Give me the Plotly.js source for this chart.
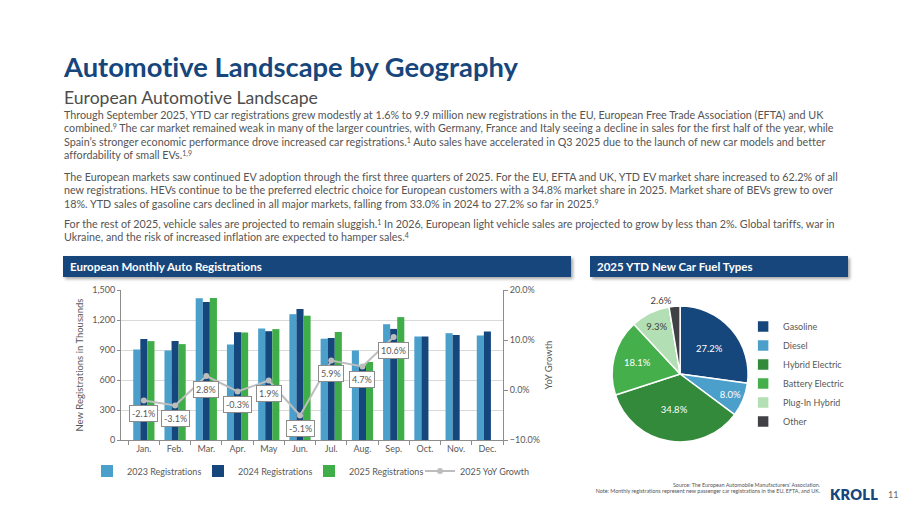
<!DOCTYPE html>
<html>
<head>
<meta charset="utf-8">
<script src="https://cdn.plot.ly/plotly-3.0.1.min.js"></script>
<style>
  html, body { margin: 0; padding: 0; background: #fff; }
  #page { position: relative; width: 920px; height: 518px; overflow: hidden; background: #fff; font-family: Lato, "Open Sans", sans-serif; font-variant-ligatures: none; font-feature-settings: "liga" 0, "clig" 0; }
  .abs { position: absolute; white-space: nowrap; }
  #title { left: 64px; top: 50px; font-size: 27px; font-weight: 700; color: #17467C; line-height: 34px; }
  #subtitle { left: 64px; top: 88px; font-size: 17px; color: #4d4d4d; line-height: 20px; }
  .para { left: 64px; font-size: 10.2px; color: #555; line-height: 13.3px; }
  .para sup { font-size: 65%; line-height: 0; vertical-align: 0.45em; }
  .hdr { background: #17467C; color: #fff; font-weight: 700; font-size: 11.5px; line-height: 21px; box-shadow: 2px 2px 3px rgba(0,0,0,0.35); padding-left: 7px; box-sizing: border-box; }
  .foot { right: 100px; font-size: 5.4px; color: #555; line-height: 6.6px; text-align: right; }
  #logo { left: 830px; top: 486px; font-size: 14.5px; font-weight: 800; color: #17467C; letter-spacing: 0.3px; line-height: 18px; }
  #pnum { left: 888px; top: 489px; font-size: 9px; color: #666; line-height: 12px; }
  #bar { position: absolute; left: 0px; top: 282px; width: 620px; height: 230px; }
  #pie { position: absolute; left: 590px; top: 280px; width: 330px; height: 200px; }
  svg text { font-variant-ligatures: none; }
</style>
</head>
<body>
<div id="page">
  <div id="title" class="abs">Automotive Landscape by Geography</div>
  <div id="subtitle" class="abs">European Automotive Landscape</div>

  <div id="p1" class="abs para" style="top:108px">Through September 2025, YTD car registrations grew modestly at 1.6% to 9.9 million new registrations in the EU, European Free Trade Association (EFTA) and UK<br>combined.<sup>9</sup> The car market remained weak in many of the larger countries, with Germany, France and Italy seeing a decline in sales for the first half of the year, while<br>Spain’s stronger economic performance drove increased car registrations.<sup>1</sup> Auto sales have accelerated in Q3 2025 due to the launch of new car models and better<br>affordability of small EVs.<sup>1,9</sup></div>

  <div id="p2" class="abs para" style="top:170px"><span id="fitline">The European markets saw continued EV adoption through the first three quarters of 2025. For the EU, EFTA and UK, YTD EV market share increased to 62.2% of all</span><br>new registrations. HEVs continue to be the preferred electric choice for European customers with a 34.8% market share in 2025. Market share of BEVs grew to over<br>18%. YTD sales of gasoline cars declined in all major markets, falling from 33.0% in 2024 to 27.2% so far in 2025.<sup>9</sup></div>

  <div id="p3" class="abs para" style="top:216.7px">For the rest of 2025, vehicle sales are projected to remain sluggish.<sup>1</sup> In 2026, European light vehicle sales are projected to grow by less than 2%. Global tariffs, war in<br>Ukraine, and the risk of increased inflation are expected to hamper sales.<sup>4</sup></div>

  <div class="abs hdr" style="left:63px; top:256px; width:508px; height:21px;">European Monthly Auto Registrations</div>
  <div class="abs hdr" style="left:590px; top:256px; width:258px; height:21px;">2025 YTD New Car Fuel Types</div>

  <div id="bar"></div>
  <div id="pie"></div>

  <div class="abs foot" style="top:481.5px">Source: The European Automobile Manufacturers’ Association.<br>Note: Monthly registrations represent new passenger car registrations in the EU, EFTA, and UK.</div>
  <div id="logo" class="abs">KROLL</div>
  <div id="pnum" class="abs">11</div>
</div>

<script>
// ---------- Data ----------
const months = ["Jan.", "Feb.", "Mar.", "Apr.", "May", "Jun.", "Jul.", "Aug.", "Sep.", "Oct.", "Nov.", "Dec."];
const reg2023 = [905, 895, 1418, 955, 1115, 1258, 1013, 895, 1158, 1035, 1068, 1045];
const reg2024 = [1010, 990, 1380, 1078, 1088, 1310, 1020, 745, 1111, 1035, 1050, 1085];
const reg2025 = [989, 959, 1419, 1075, 1109, 1243, 1080, 780, 1229, null, null, null];
const yoyMonths = ["Jan.", "Feb.", "Mar.", "Apr.", "May", "Jun.", "Jul.", "Aug.", "Sep."];
const yoy2025 = [-2.1, -3.1, 2.8, -0.3, 1.9, -5.1, 5.9, 4.7, 10.6];

const fuelLabels = ["Gasoline", "Diesel", "Hybrid Electric", "Battery Electric", "Plug-In Hybrid", "Other"];
const fuelShares = [27.2, 8.0, 34.8, 18.1, 9.3, 2.6];

// ---------- Fit paragraph font to reference line width ----------
(function fitText() {
  const line = document.getElementById('fitline');
  const target = 773;
  const w = line.getBoundingClientRect().width;
  const base = 10.2;
  const fs = base * target / w;
  document.querySelectorAll('.para').forEach(p => p.style.fontSize = fs + 'px');
  const fitEl = (id, tw) => {
    const el = document.getElementById(id);
    const cur = parseFloat(getComputedStyle(el).fontSize);
    const ww = el.getBoundingClientRect().width;
    el.style.fontSize = (cur * tw / ww) + 'px';
  };
  fitEl('title', 454);
  fitEl('subtitle', 254);
})();

// ---------- Bar chart ----------
const C23 = '#4A9FCB', C24 = '#16477C', C25 = '#3FAE49', CL = '#BDBDBD';
const axisFont = {family: 'Lato, sans-serif', size: 9, color: '#595959'};

const barTraces = [
  {type: 'bar', name: '2023 Registrations', x: months, y: reg2023, marker: {color: C23}},
  {type: 'bar', name: '2024 Registrations', x: months, y: reg2024, marker: {color: C24}},
  {type: 'bar', name: '2025 Registrations', x: months, y: reg2025, marker: {color: C25}},
  {type: 'scatter', mode: 'lines+markers', name: '2025 YoY Growth', x: yoyMonths, y: yoy2025, yaxis: 'y2',
   line: {color: CL, width: 2}, marker: {color: CL, size: 6}}
];

const labelAnns = yoyMonths.map((m, i) => ({
  x: m, y: yoy2025[i], xref: 'x', yref: 'y2', showarrow: false, yshift: -13,
  text: yoy2025[i].toFixed(1) + '%', font: {family: 'Lato, sans-serif', size: 9, color: '#595959'},
  bgcolor: '#ffffff', bordercolor: '#8c8c8c', borderwidth: 1, borderpad: 2
}));

const barLayout = {
  width: 620, height: 230,
  margin: {l: 121, r: 117, t: 8, b: 72},
  paper_bgcolor: 'rgba(0,0,0,0)', plot_bgcolor: 'rgba(0,0,0,0)',
  font: axisFont,
  barmode: 'group', bargap: 0.32, bargroupgap: 0,
  showlegend: true,
  legend: {orientation: 'h', x: -0.089, xanchor: 'left', y: -0.207, yanchor: 'middle',
           font: axisFont, entrywidth: 66, traceorder: 'normal'},
  xaxis: {type: 'category', tickson: 'boundaries', ticks: 'outside', ticklen: 4, tickcolor: '#8c8c8c',
          showline: true, linecolor: '#8c8c8c', linewidth: 1, showgrid: false, tickfont: axisFont,
          fixedrange: true},
  yaxis: {range: [0, 1500], dtick: 300, tickformat: ',d', ticks: 'outside', ticklen: 3, tickcolor: '#8c8c8c',
          showline: true, linecolor: '#8c8c8c', gridcolor: '#D9D9D9', zeroline: false, tickfont: axisFont,
          title: {text: 'New Registrations in Thousands', font: {family: 'Lato, sans-serif', size: 9.5, color: '#595959'}, standoff: 6}},
  yaxis2: {overlaying: 'y', side: 'right', range: [-10, 20], dtick: 10, tickformat: '.1f', ticksuffix: '%',
           ticks: 'outside', ticklen: 4, tickcolor: '#8c8c8c', showline: true, linecolor: '#8c8c8c',
           showgrid: false, zeroline: false, tickfont: axisFont,
           title: {text: 'YoY Growth', font: {family: 'Lato, sans-serif', size: 9.5, color: '#595959'}, standoff: 6}},
  annotations: labelAnns
};

Plotly.newPlot('bar', barTraces, barLayout, {displayModeBar: false, staticPlot: true});

// ---------- Pie chart ----------
const pieColors = ['#16477C', '#4A9FCB', '#338A3A', '#45AF4C', '#B2DFB3', '#404045'];
const pieTextColors = ['#ffffff', '#ffffff', '#ffffff', '#ffffff', '#404040', '#404040'];
const pieTrace = {
  type: 'pie', labels: fuelLabels, values: fuelShares, sort: false, direction: 'clockwise', rotation: 0,
  marker: {colors: pieColors, line: {color: '#ffffff', width: 1.5}},
  texttemplate: '%{value:.1f}%', textinfo: 'text',
  textposition: ['inside', 'inside', 'inside', 'inside', 'inside', 'outside'],
  insidetextorientation: 'horizontal',
  textfont: {family: 'Lato, sans-serif', size: 9.5, color: pieTextColors},
  outsidetextfont: {family: 'Lato, sans-serif', size: 9.5, color: '#404040'},
  hoverinfo: 'none',
  domain: {x: [0.067, 0.479], y: [0.19, 0.87]}
};
const pieLayout = {
  width: 330, height: 200, margin: {l: 0, r: 0, t: 0, b: 0},
  paper_bgcolor: 'rgba(0,0,0,0)',
  showlegend: true,
  legend: {x: 0.464, xanchor: 'left', y: 0.53, yanchor: 'middle',
           font: {family: 'Lato, sans-serif', size: 9, color: '#595959'}, traceorder: 'normal'}
};
Plotly.newPlot('pie', [pieTrace], pieLayout, {displayModeBar: false, staticPlot: true});
</script>
</body>
</html>
